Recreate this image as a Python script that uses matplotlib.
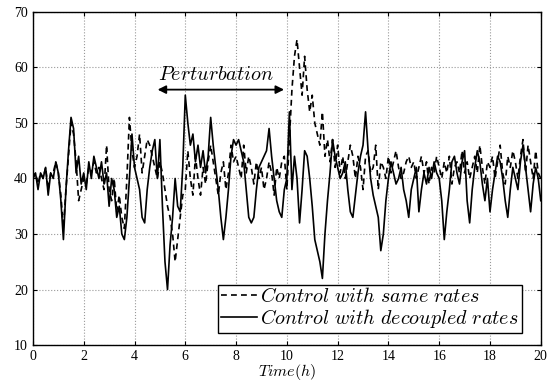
import numpy as np
import matplotlib
matplotlib.use("Agg")
import matplotlib.pyplot as plt

plt.rcParams['mathtext.fontset'] = 'cm'
plt.rcParams['font.family'] = ['Liberation Serif', 'DejaVu Serif']

# time axis, 0.1 h steps
time_h = np.round(np.arange(0, 20.05, 0.1), 2)

# control with decoupled rates (solid)
decoupled = [
    40, 41, 38, 41, 40, 42, 37, 41, 40, 43,
    41, 36, 29, 38, 45, 51, 49, 41, 44, 39,
    41, 38, 43, 40, 44, 42, 40, 43, 39, 41,
    35, 40, 38, 33, 35, 30, 29, 33, 40, 48,
    42, 40, 38, 33, 32, 38, 42, 45, 47, 40,
    47, 35, 25, 20, 28, 33, 40, 35, 34, 42,
    55, 50, 46, 48, 43, 46, 42, 45, 41, 44,
    51, 46, 42, 38, 33, 29, 33, 38, 44, 47,
    46, 47, 45, 43, 38, 33, 32, 33, 38, 42,
    43, 44, 45, 49, 44, 40, 36, 34, 33, 38,
    40, 52, 38, 44, 40, 32, 38, 45, 44, 40,
    35, 29, 27, 25, 22, 30, 36, 41, 47, 44,
    42, 40, 41, 43, 38, 34, 33, 37, 41, 44,
    46, 52, 45, 40, 37, 35, 33, 27, 30, 36,
    40, 43, 41, 39, 40, 42, 38, 36, 33, 38,
    40, 42, 34, 38, 41, 39, 42, 40, 43, 41,
    40, 36, 29, 34, 38, 43, 44, 41, 39, 43,
    45, 36, 32, 38, 42, 45, 43, 39, 36, 40,
    34, 38, 41, 44, 43, 40, 36, 33, 38, 42,
    40, 38, 43, 46, 42, 38, 34, 39, 42, 40,
    36,
]

# control with same rates (dashed)
same = [
    40, 41, 39, 41, 40, 42, 38, 41, 41, 43,
    41, 37, 31, 38, 44, 50, 48, 43, 36, 38,
    40, 39, 42, 41, 43, 41, 42, 40, 38, 46,
    38, 36, 40, 34, 37, 33, 31, 40, 51, 45,
    42, 44, 48, 41, 44, 47, 46, 44, 42, 40,
    43, 41, 38, 35, 33, 30, 25, 29, 33, 37,
    38, 45, 40, 37, 44, 40, 37, 42, 39, 43,
    46, 43, 40, 37, 41, 43, 38, 41, 46, 43,
    44, 42, 40, 46, 41, 44, 42, 39, 43, 40,
    42, 38, 40, 43, 41, 37, 42, 40, 43, 44,
    38, 47, 56, 62, 65, 60, 55, 62, 56, 52,
    55, 50, 48, 46, 52, 44, 47, 43, 47, 42,
    46, 41, 44, 40, 43, 46, 44, 40, 44, 42,
    38, 44, 45, 41, 42, 46, 38, 43, 42, 40,
    44, 41, 43, 45, 42, 40, 41, 43, 44, 42,
    43, 40, 42, 44, 41, 43, 39, 42, 41, 44,
    42, 40, 43, 41, 44, 39, 42, 43, 41, 45,
    41, 43, 40, 42, 44, 41, 46, 42, 39, 43,
    42, 44, 40, 43, 46, 41, 39, 44, 42, 45,
    43, 40, 44, 47, 41, 46, 43, 40, 45, 41,
    40,
]

pert_start, pert_end, pert_level = 4.8, 10.0, 56

fig = plt.figure(figsize=(5.49, 3.83), dpi=100)
ax = fig.add_axes([0.060, 0.099, 0.925, 0.870])

ax.plot(time_h, same, 'k--', lw=1.2, dashes=(3.5, 2.5),
        label=r'$Control\ with\ same\ rates$')
ax.plot(time_h, decoupled, 'k-', lw=1.2,
        label=r'$Control\ with\ decoupled\ rates$')

ax.annotate('', xy=(pert_start, pert_level), xytext=(pert_end, pert_level),
            arrowprops=dict(arrowstyle='<|-|>', color='k', lw=1.3,
                            mutation_scale=12))
ax.text((pert_start + pert_end) / 2 - 0.2, pert_level + 2.6,
        r'$Perturbation$', ha='center', va='center', fontsize=14.5)

ax.set_xlim(0, 20)
ax.set_ylim(10, 70)
ax.set_xticks(np.arange(0, 21, 2))
ax.set_yticks(np.arange(10, 71, 10))
ax.tick_params(direction='in', labelsize=10, length=3, top=True, right=True)
ax.grid(True, linestyle=':', color='0.6', lw=0.8)
for sp in ax.spines.values():
    sp.set_linewidth(1.0)
ax.set_xlabel(r'$Time(h)$', fontsize=11.5, labelpad=-1)

leg = ax.legend(loc='lower right', bbox_to_anchor=(0.963, 0.036),
                fontsize=14.5, handlelength=1.8, handletextpad=0.15,
                borderpad=0.15, labelspacing=0.0, fancybox=False,
                framealpha=1, edgecolor='k', borderaxespad=0)
leg.get_frame().set_linewidth(1.0)

fig.savefig('out.png', dpi=100)
